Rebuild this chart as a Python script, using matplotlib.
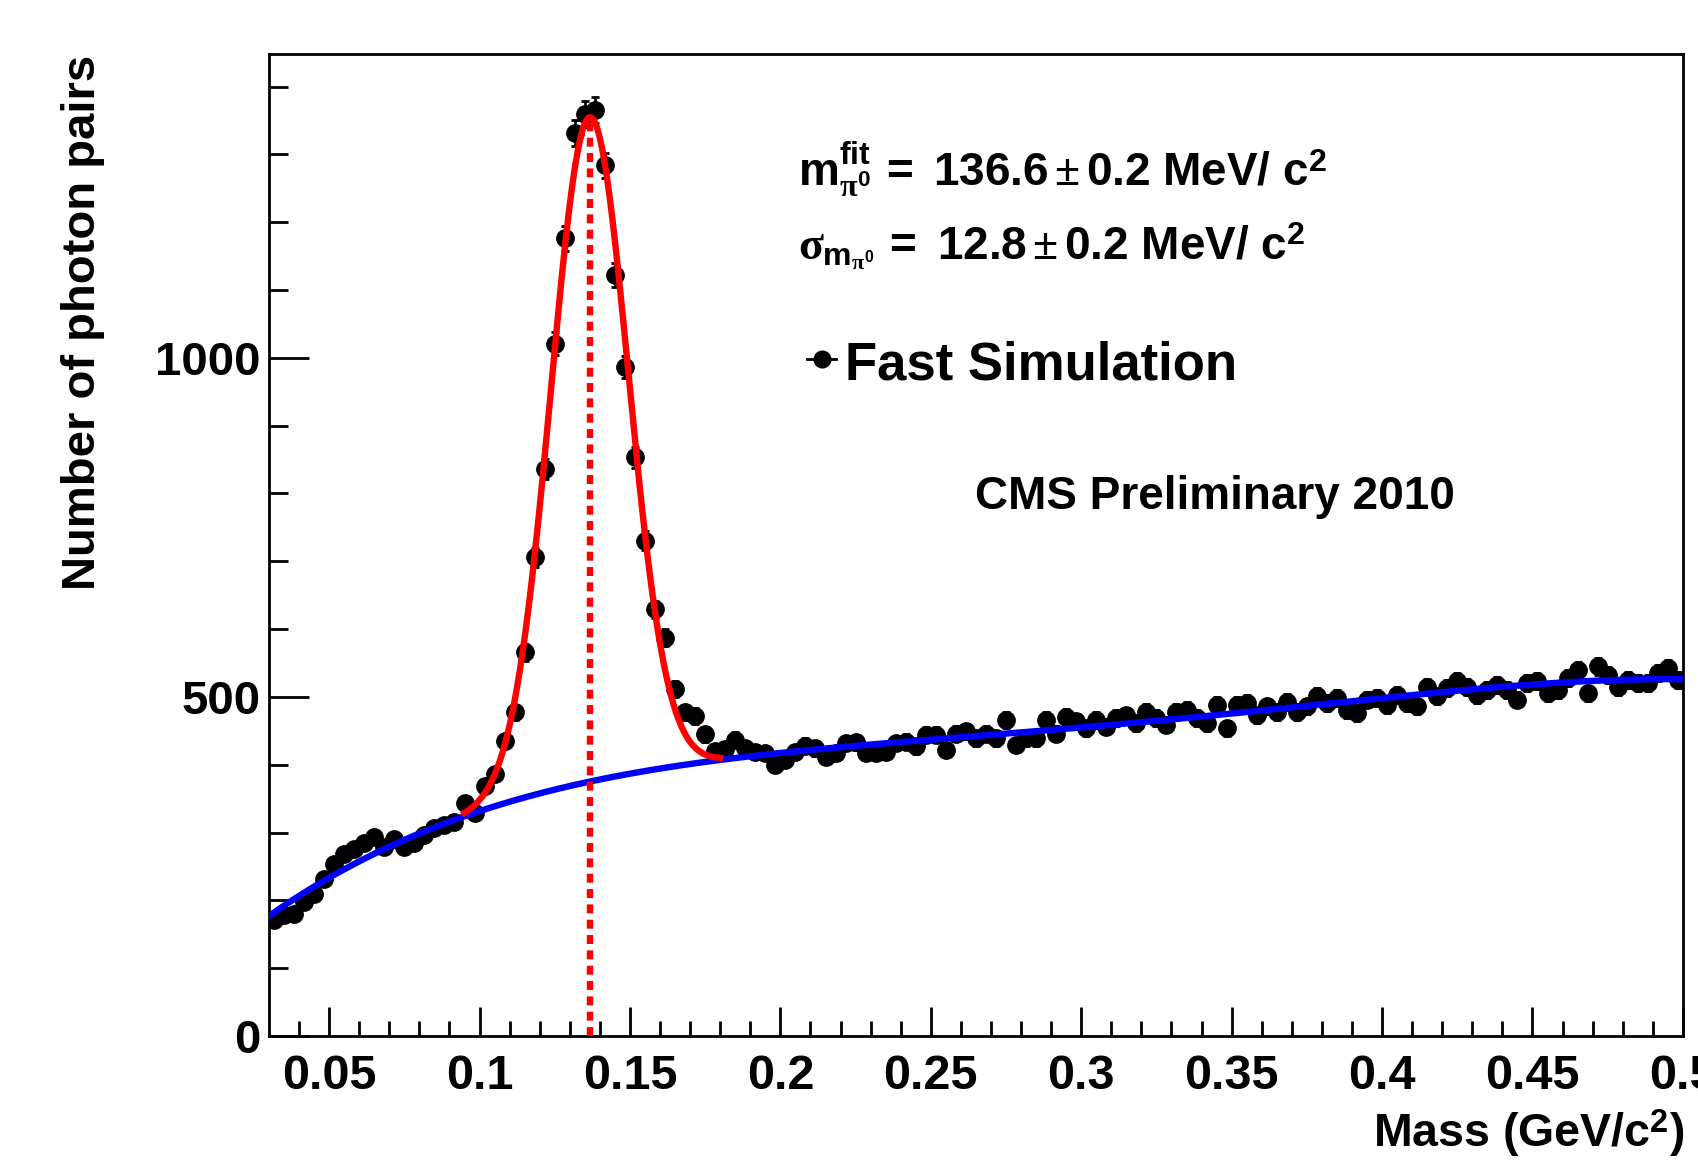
import numpy as np
from matplotlib import pyplot as plt

plt.rcParams.update(
    {
        "font.family": ["Liberation Sans", "DejaVu Sans"],
        "font.weight": "bold",
        "font.size": 33,
        "mathtext.fontset": "custom",
        "mathtext.rm": "Liberation Sans:bold",
        "mathtext.bf": "Liberation Sans:bold",
        "mathtext.it": "Liberation Serif",
        "mathtext.sf": "Liberation Serif",
    }
)

# histogram: 150 bins on [0, 0.5] GeV/c^2, only bins 9..149 are inside the frame
bin_width = 0.5 / 150
first_bin = 9
counts = [
    171, 179, 180, 197, 209, 231, 253, 268, 275, 285,
    294, 278, 291, 278, 285, 297, 307, 311, 315, 343,
    329, 368, 387, 435, 477, 566, 706, 836, 1021, 1176,
    1331, 1360, 1365, 1284, 1122, 986, 853, 730, 629, 587,
    511, 477, 472, 445, 420, 423, 437, 424, 419, 417,
    400, 407, 419, 428, 424, 412, 417, 432, 433, 417,
    417, 419, 432, 434, 427, 444, 444, 422, 446, 449,
    439, 446, 439, 466, 429, 439, 439, 466, 446, 471,
    464, 454, 466, 456, 469, 473, 461, 478, 469, 459,
    478, 481, 469, 461, 488, 454, 488, 491, 473, 486,
    478, 493, 478, 486, 501, 491, 498, 481, 476, 496,
    498, 488, 503, 491, 486, 515, 501, 513, 523, 515,
    503, 510, 518, 510, 496, 520, 523, 505, 510, 528,
    540, 505, 545, 532, 515, 525, 520, 520, 535, 542,
    525,
]

fit_mean = 0.1366  # GeV/c^2
fit_sigma = 0.0128  # GeV/c^2
signal_range = (0.095, 0.18)
sideband_cut = (0.095, 0.19)
err_scale = 0.52

x_ticks = [0.05, 0.1, 0.15, 0.2, 0.25, 0.3, 0.35, 0.4, 0.45, 0.5]
x_tick_labels = ["0.05", "0.1", "0.15", "0.2", "0.25", "0.3", "0.35", "0.4", "0.45", "0.5"]
y_ticks = [0, 500, 1000]

mass_text = r"$\mathrm{m}^{\mathrm{fit}}_{\pi^{0}}\,=\ 136.6\,\mathsf{\pm}\,0.2\ \mathrm{MeV/\ c}^{2}$"
sigma_text = r"$\sigma_{\mathrm{m}_{\pi^{0}}}\,=\ 12.8\,\mathsf{\pm}\,0.2\ \mathrm{MeV/\ c}^{2}$"


def fit_background(x, y):
    side = (x < sideband_cut[0]) | (x > sideband_cut[1])
    return np.poly1d(np.polyfit(x[side], y[side], 4))


def gauss(x):
    return np.exp(-0.5 * ((x - fit_mean) / fit_sigma) ** 2)


def plot_spectrum(output_path="out.png"):
    y = np.array(counts, dtype=float)
    x = (np.arange(first_bin, first_bin + len(y)) + 0.5) * bin_width

    bkg = fit_background(x, y)
    core = (x > 0.115) & (x < 0.16)
    g = gauss(x[core])
    amp = np.sum(g * (y[core] - bkg(x[core]))) / np.sum(g * g)

    fig = plt.figure(figsize=(16.98, 11.61), dpi=100)
    ax = fig.add_axes([0.1584, 0.1077, 0.8327, 0.8458])

    ax.errorbar(
        x, y, yerr=err_scale * np.sqrt(y),
        fmt="o", color="black", markersize=12.5, elinewidth=2,
        capsize=3, capthick=2, zorder=2,
    )

    xb = np.linspace(0.03, 0.5, 600)
    ax.plot(xb, bkg(xb), color="blue", linewidth=4.6, zorder=3)
    xs = np.linspace(signal_range[0], signal_range[1], 400)
    ax.plot(xs, bkg(xs) + amp * gauss(xs), color="red", linewidth=4.6, zorder=4)
    ax.plot(
        [fit_mean, fit_mean], [0, bkg(fit_mean) + amp],
        color="red", linewidth=4.6, linestyle=(0, (1.4, 1.0)), zorder=5,
    )

    ax.set_xlim(0.03, 0.5)
    ax.set_ylim(0, 1448)
    ax.set_xticks(x_ticks)
    ax.set_xticklabels(x_tick_labels, fontsize=35)
    ax.set_xticks(np.arange(0.04, 0.5, 0.01), minor=True)
    ax.set_yticks(y_ticks)
    ax.set_yticks(np.arange(0, 1448, 100), minor=True)
    ax.tick_params(which="both", direction="in", top=False, right=False, width=2)
    ax.tick_params(axis="x", which="major", length=21, pad=13)
    ax.tick_params(axis="x", which="minor", length=11)
    ax.tick_params(axis="y", which="major", length=29, pad=6, labelsize=34)
    ax.tick_params(axis="y", which="minor", length=14)
    for spine in ax.spines.values():
        spine.set_linewidth(2)

    fig.text(0.049, 0.953, "Number of photon pairs", rotation=90,
             ha="center", va="top", fontsize=34)
    fig.text(0.9918, 0.012, r"Mass (GeV/c$^{2}$)", ha="right", va="baseline", fontsize=33.5)

    ax.text(0.3744, 0.8655, mass_text, transform=ax.transAxes, fontsize=33)
    ax.text(0.3744, 0.7905, sigma_text, transform=ax.transAxes, fontsize=33)

    ax.plot([0.3806, 0.4012], [0.689, 0.689], color="black", linewidth=2,
            transform=ax.transAxes)
    ax.plot([0.391], [0.689], "o", color="black", markersize=12, transform=ax.transAxes)
    ax.text(0.4074, 0.669, "Fast Simulation", transform=ax.transAxes, fontsize=38)

    ax.text(0.4992, 0.537, "CMS Preliminary 2010", transform=ax.transAxes, fontsize=33)

    fig.savefig(output_path, dpi=100)
    plt.close(fig)


if __name__ == "__main__":
    plot_spectrum("out.png")
